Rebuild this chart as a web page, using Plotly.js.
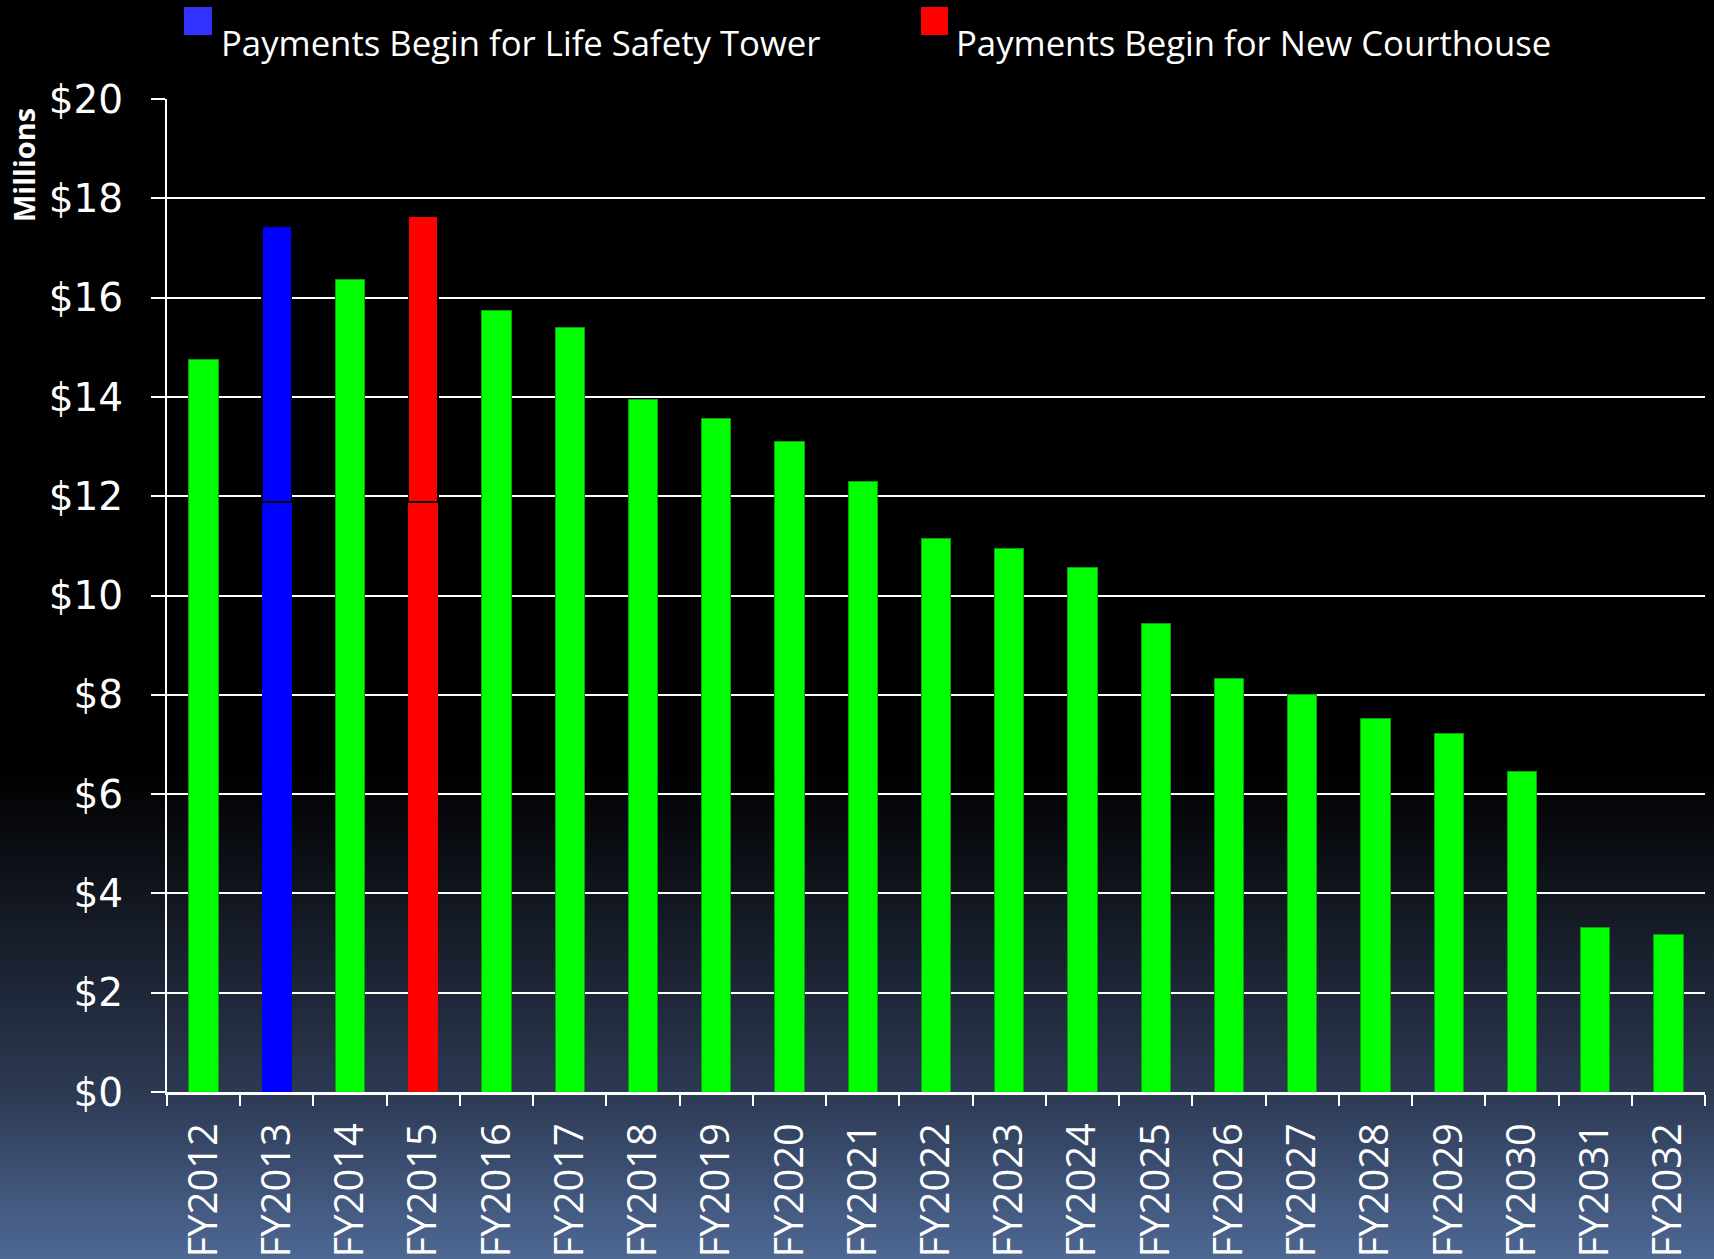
<!DOCTYPE html>
<html>
<head>
<meta charset="utf-8">
<script src="https://cdn.plot.ly/plotly-3.0.1.min.js"></script>
<style>
  html, body { margin: 0; padding: 0; }
  body {
    width: 1714px; height: 1259px; overflow: hidden;
    background: linear-gradient(to bottom, #000000 0%, #000000 61%, #0f131b 70%, #2d3a54 87%, #4e6894 100%);
  }
  #chart { width: 1714px; height: 1259px; }
</style>
</head>
<body>
<div id="chart"></div>
<script>
// Fiscal years (categories)
const fiscalYears = ["FY2012","FY2013","FY2014","FY2015","FY2016","FY2017","FY2018",
  "FY2019","FY2020","FY2021","FY2022","FY2023","FY2024","FY2025","FY2026","FY2027",
  "FY2028","FY2029","FY2030","FY2031","FY2032"];

// Base annual payments ($ millions)
const basePayments = [14.76, 11.88, 16.36, 11.88, 15.74, 15.39, 13.95, 13.56, 13.11, 12.29,
  11.14, 10.95, 10.57, 9.44, 8.33, 8.00, 7.52, 7.22, 6.45, 3.32, 3.18];

// Added payments: Life Safety Tower (begins FY2013)
const lifeSafetyTower = [null, 5.56, null, null, null, null, null, null, null, null, null,
  null, null, null, null, null, null, null, null, null, null];

// Added payments: New Courthouse (begins FY2015)
const newCourthouse = [null, null, null, 5.76, null, null, null, null, null, null, null,
  null, null, null, null, null, null, null, null, null, null];

// Tick values for y-axis
const yTickVals = [0, 2, 4, 6, 8, 10, 12, 14, 16, 18, 20];
const yTickText = ["$0","$2","$4","$6","$8","$10","$12","$14","$16","$18","$20"];

// Legend labels
const legendLabels = ["Payments Begin for Life Safety Tower", "Payments Begin for New Courthouse"];

const GREEN = "#00ff00", BLUE = "#0000ff", RED = "#ff0000";
const baseColors = fiscalYears.map((y, i) =>
  lifeSafetyTower[i] != null ? BLUE : (newCourthouse[i] != null ? RED : GREEN));
const baseLineColors = baseColors.map(c => c === GREEN ? "#0ba00b" : c);

const traces = [
  {
    type: "bar", x: fiscalYears, y: basePayments, showlegend: false,
    marker: { color: baseColors, line: { color: baseLineColors, width: 1 } },
    hoverinfo: "x+y"
  },
  {
    type: "bar", x: fiscalYears, y: lifeSafetyTower, name: legendLabels[0], showlegend: false,
    marker: { color: BLUE, line: { color: "#000000", width: 1.5 } }
  },
  {
    type: "bar", x: fiscalYears, y: newCourthouse, name: legendLabels[1], showlegend: false,
    marker: { color: RED, line: { color: "#000000", width: 1.5 } }
  }
];

const L = 167, R = 9, T = 99, B = 167;
const W = 1714, H = 1259;
const pw = W - L - R, ph = H - T - B;
const px2x = p => (p - L) / pw;
const py2y = p => (H - B - p) / ph;

const layout = {
  width: W, height: H,
  margin: { l: L, r: R, t: T, b: B, pad: 0 },
  paper_bgcolor: "rgba(0,0,0,0)",
  plot_bgcolor: "rgba(0,0,0,0)",
  barmode: "stack",
  bargap: 0.6,
  showlegend: false,
  xaxis: {
    type: "category",
    showgrid: false,
    showline: true, linecolor: "#ffffff", linewidth: 3,
    ticks: "outside", tickson: "boundaries", ticklen: 11, tickwidth: 2, tickcolor: "#ffffff",
    tickangle: -90,
    ticklabelstandoff: 12,
    tickfont: { family: "Open Sans", size: 40, color: "#ffffff" },
    zeroline: false
  },
  yaxis: {
    range: [0, 20],
    tickvals: yTickVals, ticktext: yTickText,
    showgrid: true, gridcolor: "#ffffff", gridwidth: 2,
    showline: true, linecolor: "#ffffff", linewidth: 2,
    ticks: "outside", ticklen: 14, tickwidth: 2, tickcolor: "#ffffff",
    ticklabelstandoff: 20,
    tickfont: { family: "DejaVu Sans", size: 39, color: "#ffffff" },
    zeroline: false
  },
  shapes: [
    { type: "rect", xref: "paper", yref: "paper",
      x0: px2x(184), x1: px2x(212), y0: py2y(35), y1: py2y(7),
      fillcolor: "#3333ff", line: { width: 0 } },
    { type: "rect", xref: "paper", yref: "paper",
      x0: px2x(921), x1: px2x(948), y0: py2y(35), y1: py2y(7),
      fillcolor: "#ff0000", line: { width: 0 } }
  ],
  annotations: [
    { xref: "paper", yref: "paper", x: px2x(220), y: py2y(43), xanchor: "left", yanchor: "middle",
      text: legendLabels[0], showarrow: false, borderpad: 0,
      font: { family: "Open Sans", size: 34.7, color: "#ffffff" } },
    { xref: "paper", yref: "paper", x: px2x(955), y: py2y(43), xanchor: "left", yanchor: "middle",
      text: legendLabels[1], showarrow: false, borderpad: 0,
      font: { family: "Open Sans", size: 34.7, color: "#ffffff" } },
    { xref: "paper", yref: "paper", x: px2x(23), y: py2y(165), xanchor: "center", yanchor: "middle",
      text: "<b>Millions</b>", textangle: -90, showarrow: false, borderpad: 0,
      font: { family: "Open Sans", size: 29, color: "#ffffff" } }
  ]
};

Plotly.newPlot("chart", traces, layout, { displayModeBar: false, staticPlot: true });
</script>
</body>
</html>
